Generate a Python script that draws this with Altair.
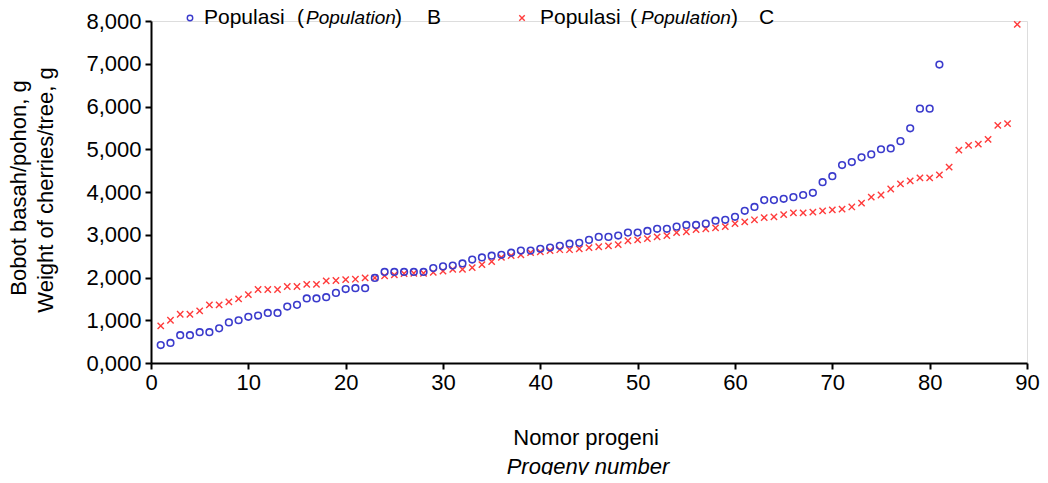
import altair as alt
import pandas as pd

# ---- data ----
progeny_b = list(range(1, 82))
weight_b = [420, 470, 650, 650, 720, 720, 810, 950, 1000, 1080,
            1110, 1170, 1170, 1320, 1360, 1510, 1510, 1540, 1640, 1730,
            1750, 1750, 1990, 2130, 2130, 2130, 2130, 2130, 2220, 2260,
            2280, 2330, 2420, 2470, 2510, 2530, 2580, 2630, 2630, 2670,
            2700, 2740, 2790, 2810, 2880, 2950, 2950, 2980, 3050, 3050,
            3090, 3140, 3140, 3190, 3230, 3230, 3260, 3330, 3350, 3420,
            3560, 3650, 3810, 3810, 3840, 3880, 3930, 3980, 4230, 4370,
            4630, 4700, 4810, 4880, 5000, 5020, 5190, 5490, 5950, 5950,
            6980]
progeny_c = list(range(1, 90))
weight_c = [870, 1000, 1140, 1140, 1220, 1360, 1360, 1430, 1500, 1600,
            1720, 1720, 1720, 1790, 1790, 1840, 1840, 1920, 1930, 1950,
            1960, 1990, 1990, 2040, 2060, 2090, 2100, 2100, 2120, 2150,
            2190, 2190, 2230, 2300, 2370, 2470, 2510, 2530, 2580, 2600,
            2630, 2650, 2650, 2670, 2700, 2720, 2740, 2770, 2860, 2880,
            2910, 2950, 2980, 3050, 3070, 3120, 3140, 3160, 3190, 3260,
            3300, 3350, 3400, 3420, 3470, 3510, 3510, 3530, 3560, 3580,
            3600, 3650, 3740, 3880, 3930, 4070, 4190, 4260, 4330, 4330,
            4400, 4580, 4980, 5090, 5120, 5230, 5560, 5600, 7920]

x_ticks = list(range(0, 91, 10))
y_ticks = list(range(0, 8001, 1000))

FONT = "Liberation Sans"
FS = 22
BLUE = "#3b3bcc"
RED = "#ff3b3b"

df_b = pd.DataFrame({"progeny": progeny_b, "weight": weight_b})
df_c = pd.DataFrame({"progeny": progeny_c, "weight": weight_c})
dummy = pd.DataFrame({"k": [0]})

x_enc = alt.X(
    "progeny:Q",
    scale=alt.Scale(domain=[0, 90], nice=False, zero=True),
    axis=alt.Axis(values=x_ticks, title=None, grid=False, domainColor="black",
                  domainWidth=2, tickColor="black", tickWidth=2, tickSize=6,
                  labelFont=FONT, labelFontSize=FS, labelColor="black",
                  labelPadding=3, labelFlush=False),
)
y_enc = alt.Y(
    "weight:Q",
    scale=alt.Scale(domain=[0, 8000], nice=False),
    axis=alt.Axis(values=y_ticks, title=None, grid=False, domainColor="black",
                  domainWidth=2, tickColor="black", tickWidth=2, tickSize=6,
                  labelFont=FONT, labelFontSize=FS, labelColor="black",
                  labelPadding=4,
                  labelExpr="datum.value == 0 ? '0,000' : format(datum.value, ',')"),
)

XPATH = "M-1,-1L1,1M-1,1L1,-1"

pts_b = alt.Chart(df_b).mark_point(shape="circle", filled=False, size=44,
                                    strokeWidth=1.6, color=BLUE, opacity=1).encode(x=x_enc, y=y_enc)
pts_c = alt.Chart(df_c).mark_point(shape=XPATH, filled=False, size=40,
                                    strokeWidth=1.4, color=RED, opacity=1).encode(x=x_enc, y=y_enc)


def txt(s, x, y, italic=False, align="left", angle=0, size=FS):
    kw = dict(font=FONT, fontSize=size, color="black", align=align, baseline="middle")
    if italic:
        kw["fontStyle"] = "italic"
    if angle:
        kw["angle"] = angle
    return alt.Chart(dummy).mark_text(text=s, **kw).encode(x=alt.value(x), y=alt.value(y))


def sym(shape, color, x, y):
    return alt.Chart(dummy).mark_point(shape=shape, filled=False, size=30, strokeWidth=1.4,
                                       color=color, opacity=1).encode(x=alt.value(x), y=alt.value(y))


LY = -3
legend = [
    sym("circle", BLUE, 39, LY),
    txt("Populasi", 53, LY, size=21),
    txt("(", 146, LY, size=21),
    txt("Population", 155, LY, italic=True, size=19),
    txt(")", 244, LY, size=21),
    txt("B", 276, LY, size=21),
    sym(XPATH, RED, 371, LY),
    txt("Populasi", 389, LY, size=21),
    txt("(", 479, LY, size=21),
    txt("Population", 490, LY, italic=True, size=19),
    txt(")", 580, LY, size=21),
    txt("C", 608, LY, size=21),
]

titles = [
    txt("Nomor progeni", 435, 417, align="center"),
    txt("Progeny number", 437, 446, italic=True, align="center"),
    txt("Bobot basah/pohon, g", -132, 167, align="center", angle=270),
    txt("Weight of cherries/tree, g", -105, 169, align="center", angle=270),
]

chart = alt.layer(pts_c, pts_b, *legend, *titles).properties(
    width=876, height=342,
    autosize=alt.AutoSizeParams(type="none"),
    padding={"left": 143, "top": 13, "right": 13, "bottom": 112},
).configure_view(stroke=None).configure(background="white")

chart.save("out.html", embed_options={"renderer": "svg", "actions": False})
